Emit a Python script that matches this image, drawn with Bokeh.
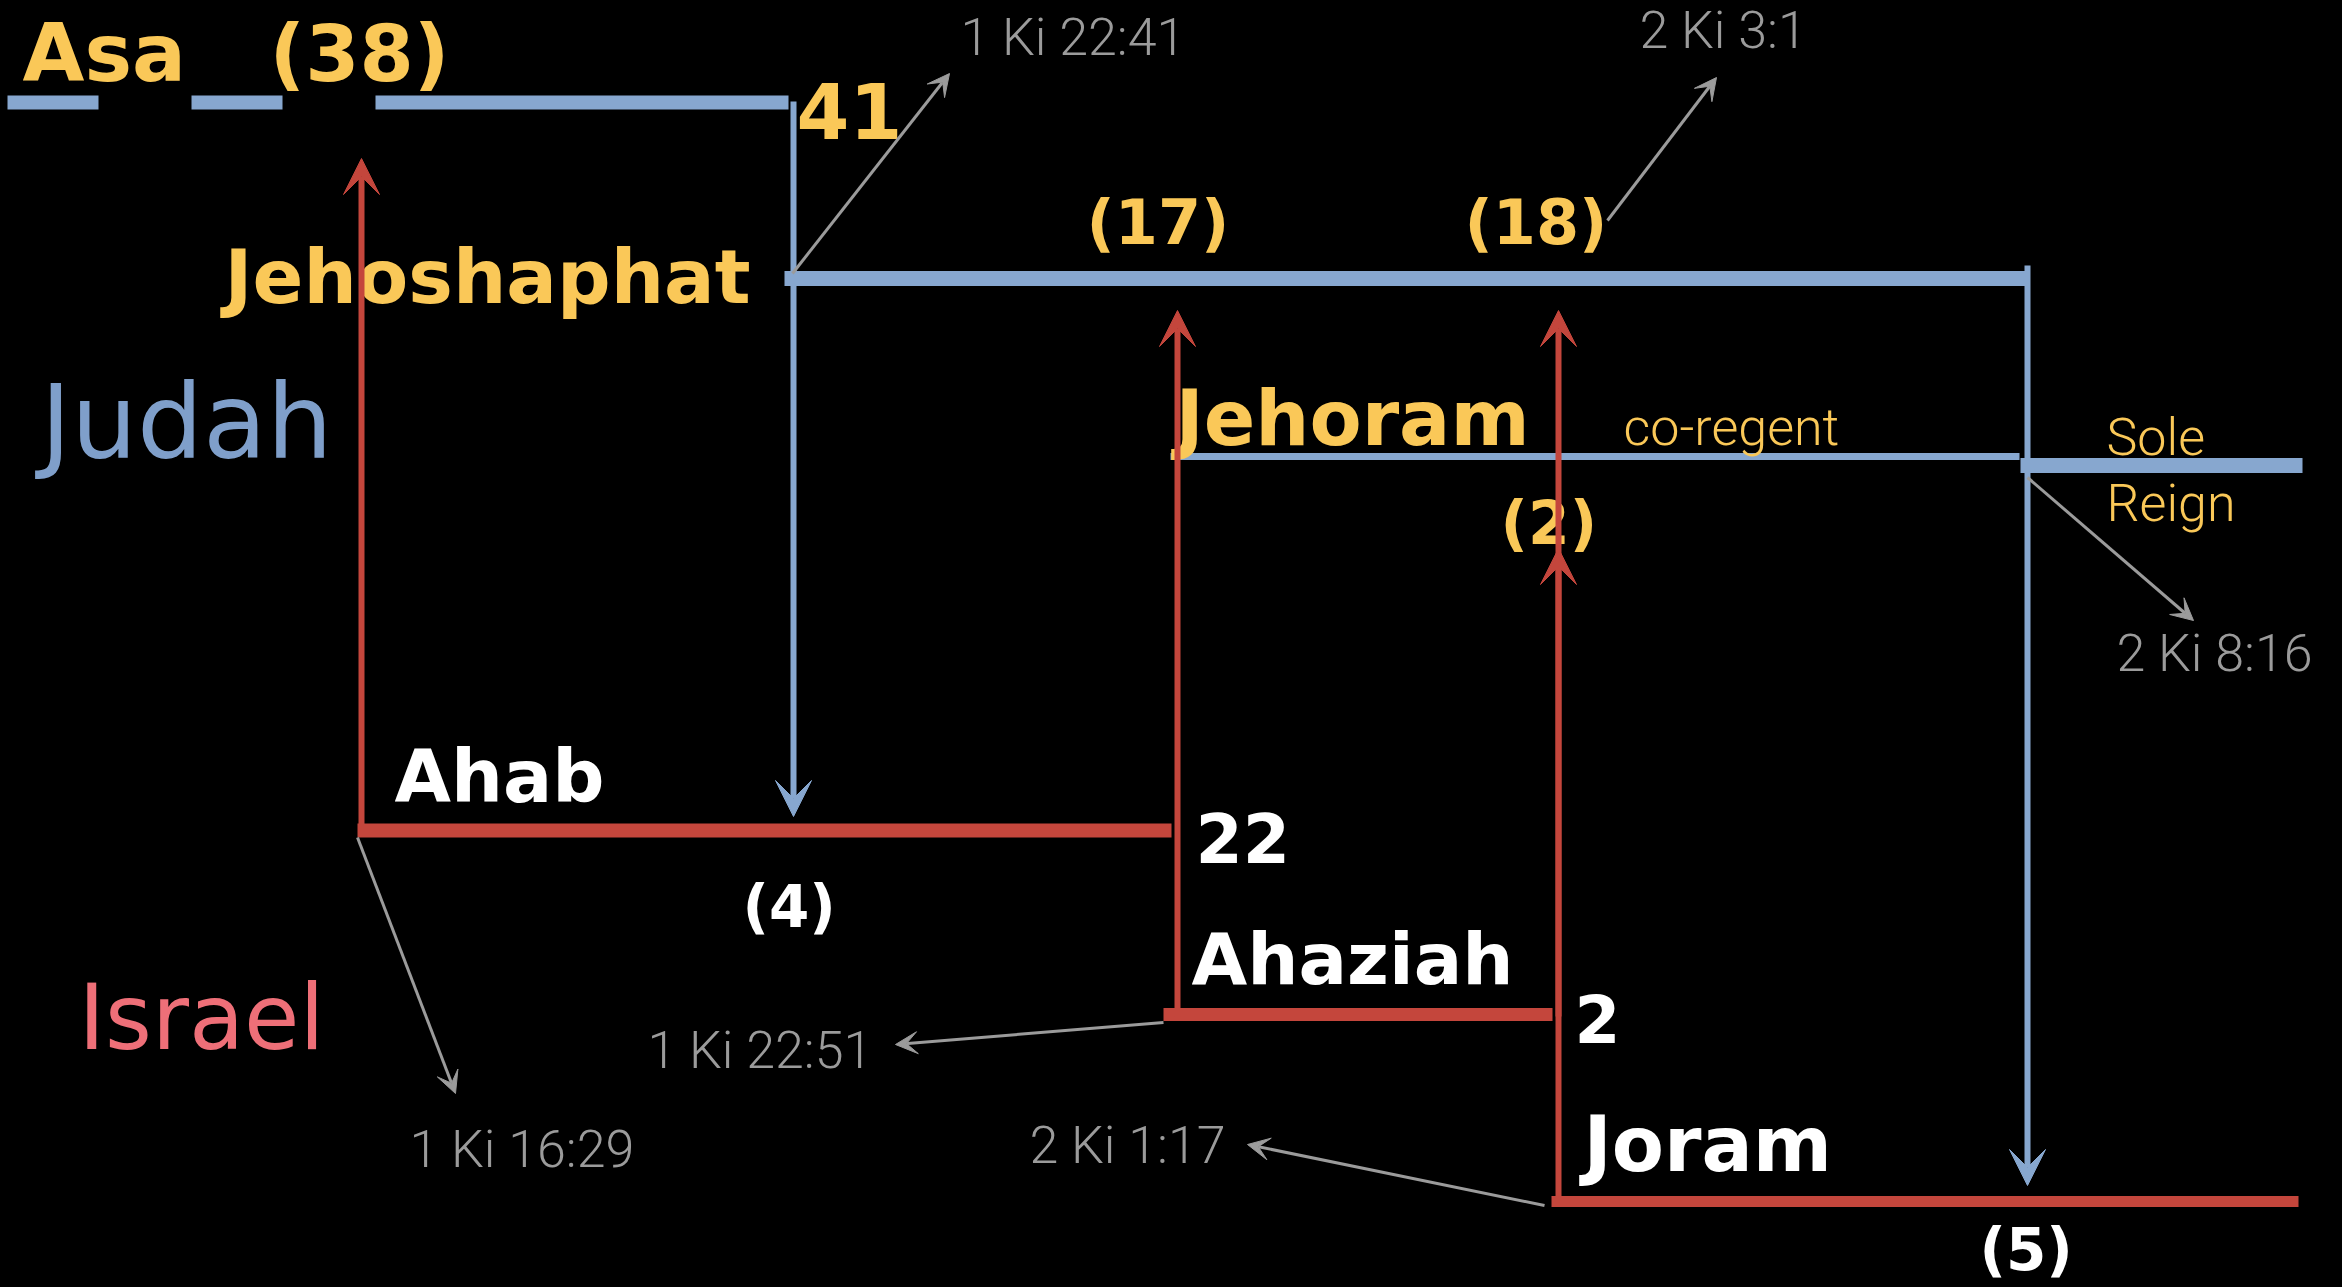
from bokeh.plotting import figure
from bokeh.models import ColumnDataSource, Range1d, Arrow, VeeHead
from bokeh.core.properties import value
from bokeh.embed import file_html
from bokeh.resources import INLINE

# ------------------------------------------------------------------
# DATA (diagram coordinates, page-pixel units)
# ------------------------------------------------------------------
# Reign bars
reign_names = ["Asa", "Jehoshaphat", "Jehoram co-regent", "Jehoram sole reign",
               "Ahab", "Ahaziah", "Joram"]
reign_kingdom = ["Judah", "Judah", "Judah", "Judah", "Israel", "Israel", "Israel"]
reign_start = [375, 784, 1170, 2020, 357, 1163, 1551]
reign_end = [788, 2025, 2019, 2302, 1171, 1552, 2298]
reign_level = [102, 278, 456, 465, 830, 1014, 1201]

# Asa's earlier years, drawn dashed
asa_early_start = [7]
asa_early_end = [375]
asa_early_level = [102]

# Synchronism arrows (vertical)
israel_sync_x = [361, 1177, 1558, 1558]
israel_sync_from = [831, 1016, 1016, 1201]
israel_sync_to = [158, 310, 310, 548]

judah_sync_x = [793, 2027]
judah_sync_from = [101, 265]
judah_sync_to = [816, 1185]

# Scripture references
ref_labels = ["1 Ki 22:41", "2 Ki 3:1", "2 Ki 8:16", "1 Ki 16:29", "1 Ki 22:51", "2 Ki 1:17"]
ref_from_x = [792, 1607, 2027, 357, 1163, 1544]
ref_from_y = [273, 220, 477, 837, 1022, 1205]
ref_to_x = [949, 1716, 2193, 455, 895, 1247]
ref_to_y = [73, 77, 620, 1093, 1044, 1144]
ref_label_x = [960, 1639, 2116, 409, 647, 1029]
ref_label_y = [52, 45, 668, 1164, 1065, 1160]

# Labels: Judah kings / years (yellow)
judah_labels = ["Asa", "(38)", "41", "(17)", "(18)", "Jehoram", "(2)"]
judah_label_x = [22, 269, 796, 1086, 1464, 1175, 1500]
judah_label_y = [76, 76, 133, 240, 240, 440, 540]

jehoshaphat_label = ["Jehoshaphat"]
jehoshaphat_label_x = [750]
jehoshaphat_label_y = [298]

judah_notes = ["co-regent", "Sole", "Reign"]
judah_note_x = [1623, 2106, 2106]
judah_note_y = [442, 452, 518]

# Labels: Israel kings / years (white)
israel_labels = ["Ahab", "22", "(4)", "Ahaziah", "2", "Joram", "(5)"]
israel_label_x = [394, 1195, 742, 1191, 1574, 1583, 1979]
israel_label_y = [797, 857, 923, 979, 1037, 1166, 1266]

kingdom_labels = ["Judah", "Israel"]
kingdom_label_x = [40, 78]
kingdom_label_y = [452, 1043]

# ------------------------------------------------------------------
# STYLE
# ------------------------------------------------------------------
BLUE = "#87a7cf"
RED = "#c4463c"
YELLOW = "#fac858"
GRAY = "#9b9b9b"
JUDAH_TXT = "#7f9fca"
ISRAEL_TXT = "#ee6f78"
BOLD_FONT = value("DejaVu Sans")
LIGHT_FONT = value("Roboto Light, Roboto, sans-serif")
BASELINE_FIX = 0.29   # bokeh's alphabetic anchor sits this fraction of the size above the glyph baseline

reign_width = [14, 15, 7, 15, 14, 13, 11]
reign_color = [BLUE if k == "Judah" else RED for k in reign_kingdom]

judah_sizes = [80, 78, 76, 62, 62, 76, 60]
israel_sizes = [73, 68, 58, 72, 66, 76, 58]
kingdom_sizes = [104, 90]
ref_size = 52
note_size = 52
jeho_size = 75


def fix(ys, sizes):
    if not isinstance(sizes, list):
        sizes = [sizes] * len(ys)
    return [y - BASELINE_FIX * s for y, s in zip(ys, sizes)]


def px(sizes):
    return [f"{s}px" for s in sizes]


W, H = 2342, 1287
p = figure(width=W, height=H, x_range=Range1d(0, W), y_range=Range1d(H, 0),
           output_backend="svg", toolbar_location=None, min_border=0,
           x_axis_type=None, y_axis_type=None,
           background_fill_color="black", border_fill_color="black",
           outline_line_color=None)
p.grid.visible = False

# reign bars
reigns = ColumnDataSource(dict(x0=reign_start, x1=reign_end, y=reign_level,
                               w=reign_width, c=reign_color, name=reign_names))
p.segment(x0="x0", y0="y", x1="x1", y1="y", line_width="w", line_color="c",
          line_cap="butt", source=reigns)
p.segment(x0=asa_early_start, y0=asa_early_level, x1=asa_early_end, y1=asa_early_level,
          line_width=14, line_color=BLUE, line_dash="91 93", line_cap="butt")

# synchronism arrows
isr = ColumnDataSource(dict(x=israel_sync_x, y0=israel_sync_from, y1=israel_sync_to))
p.add_layout(Arrow(end=VeeHead(size=36, fill_color=RED, line_color=RED, line_width=1),
                   x_start="x", y_start="y0", x_end="x", y_end="y1", source=isr,
                   line_color=RED, line_width=6))
jud = ColumnDataSource(dict(x=judah_sync_x, y0=judah_sync_from, y1=judah_sync_to))
p.add_layout(Arrow(end=VeeHead(size=36, fill_color=BLUE, line_color=BLUE, line_width=1),
                   x_start="x", y_start="y0", x_end="x", y_end="y1", source=jud,
                   line_color=BLUE, line_width=6))

# reference arrows
refs = ColumnDataSource(dict(x0=ref_from_x, y0=ref_from_y, x1=ref_to_x, y1=ref_to_y))
p.add_layout(Arrow(end=VeeHead(size=22, fill_color=GRAY, line_color=GRAY, line_width=1),
                   x_start="x0", y_start="y0", x_end="x1", y_end="y1", source=refs,
                   line_color=GRAY, line_width=3))
p.text(x=ref_label_x, y=fix(ref_label_y, ref_size), text=ref_labels, text_color=GRAY,
       text_font=LIGHT_FONT, text_font_size=f"{ref_size}px", text_baseline="alphabetic")

# labels
p.text(x=judah_label_x, y=fix(judah_label_y, judah_sizes), text=judah_labels,
       text_color=YELLOW, text_font=BOLD_FONT, text_font_style="bold",
       text_font_size=px(judah_sizes), text_baseline="alphabetic")
p.text(x=jehoshaphat_label_x, y=fix(jehoshaphat_label_y, jeho_size), text=jehoshaphat_label,
       text_color=YELLOW, text_font=BOLD_FONT, text_font_style="bold",
       text_font_size=f"{jeho_size}px", text_align="right", text_baseline="alphabetic")
p.text(x=judah_note_x, y=fix(judah_note_y, note_size), text=judah_notes, text_color=YELLOW,
       text_font=LIGHT_FONT, text_font_size=f"{note_size}px", text_baseline="alphabetic")

p.text(x=israel_label_x, y=fix(israel_label_y, israel_sizes), text=israel_labels,
       text_color="white", text_font=BOLD_FONT, text_font_style="bold",
       text_font_size=px(israel_sizes), text_baseline="alphabetic")

p.text(x=kingdom_label_x, y=fix(kingdom_label_y, kingdom_sizes), text=kingdom_labels,
       text_color=[JUDAH_TXT, ISRAEL_TXT], text_font=BOLD_FONT,
       text_font_size=px(kingdom_sizes), text_baseline="alphabetic")

html = file_html(p, INLINE)
html = html.replace("<head>", "<head><style>html,body{background:#000;}</style>", 1)
open("out.html", "w").write(html)
